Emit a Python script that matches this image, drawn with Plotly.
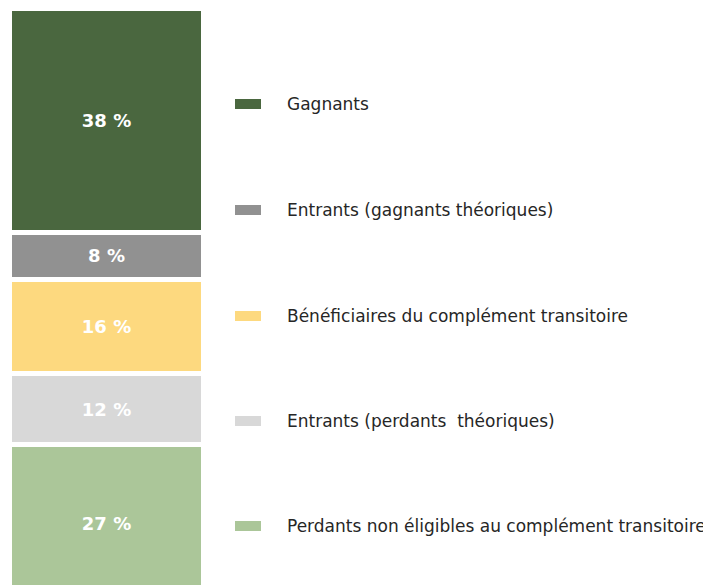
import plotly.graph_objects as go

# Data (top-to-bottom order as shown in the chart)
categories = [
    "Gagnants",
    "Entrants (gagnants théoriques)",
    "Bénéficiaires du complément transitoire",
    "Entrants (perdants  théoriques)",
    "Perdants non éligibles au complément transitoire",
]
values = [38, 8, 16, 12, 27]
colors = ["#4A673F", "#919191", "#FDD97F", "#D8D8D8", "#ABC699"]

W, H = 711, 585
OFF = 8  # page body margin in the browser

fig = go.Figure()
# stack from the bottom up
for name, v, c in reversed(list(zip(categories, values, colors))):
    fig.add_trace(go.Bar(
        x=[0], y=[v], name=name, width=1,
        marker=dict(color=c, line=dict(color="white", width=5)),
        texttemplate="%{y} %", textposition="inside",
        insidetextanchor="middle",
        textfont=dict(family="DejaVu Sans", size=18, color="white", weight="bold"),
        showlegend=False,
        hovertemplate=name + ": %{y} %<extra></extra>",
    ))

# custom legend (rectangular swatches like the original)
legend_y = [104, 210, 316, 421, 526]
for name, c, yy in zip(categories, colors, legend_y):
    fy = yy - OFF
    fig.add_shape(type="rect", xref="paper", yref="paper",
                  x0=(235 - OFF) / W, x1=(261 - OFF) / W,
                  y0=1 - (fy + 5) / H, y1=1 - (fy - 5) / H,
                  fillcolor=c, line=dict(width=0))
    fig.add_annotation(xref="paper", yref="paper", x=(285 - OFF) / W, y=1 - fy / H,
                       text=name, showarrow=False, xanchor="left", yanchor="middle",
                       font=dict(family="DejaVu Sans", size=17, color="#262626"))

px_per = 5.89
top_px = 8.5 - OFF
total = sum(values)
y_top = total + top_px / px_per
y_bot = total - (H - top_px) / px_per

bar_l, bar_r = 9.5 - OFF, 203.5 - OFF
scale = bar_r - bar_l
x0 = -0.5 - bar_l / scale
x1 = x0 + W / scale

fig.update_layout(
    width=W, height=H,
    barmode="stack",
    margin=dict(l=0, r=0, t=0, b=0),
    plot_bgcolor="white", paper_bgcolor="white",
    xaxis=dict(range=[x0, x1], visible=False, fixedrange=True),
    yaxis=dict(range=[y_bot, y_top], visible=False, fixedrange=True),
    uniformtext=dict(minsize=18, mode="show"),
    font=dict(family="DejaVu Sans"),
)

fig.write_html("out.html")
